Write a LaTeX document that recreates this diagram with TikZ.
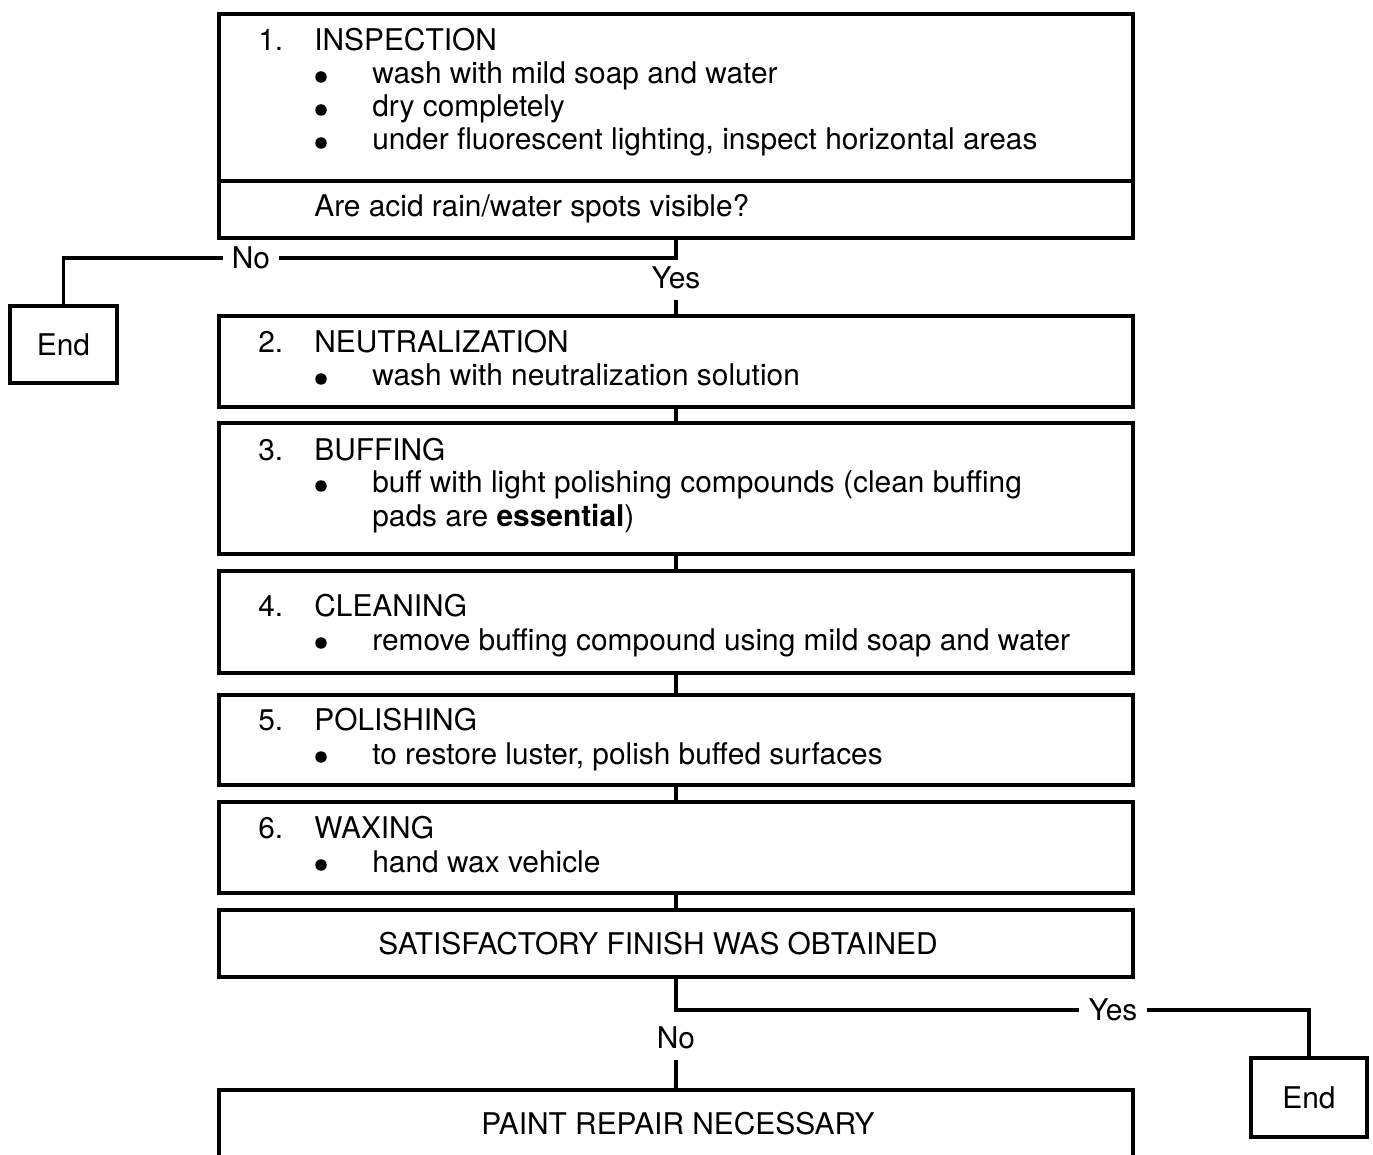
\documentclass[tikz,border=0pt]{standalone}
\usepackage{fontspec}
\setmainfont{TeX Gyre Heros}

\begin{document}
\begin{tikzpicture}[
    x=0.02cm, y=-0.02cm,
    font=\fontsize{17}{18.7}\selectfont,
    stepbox/.style={draw, line width=2.2pt, anchor=north west,
      minimum width=18.28cm, inner sep=0pt, outer sep=0pt},
    endbox/.style={draw, line width=2.2pt, anchor=north west,
      inner sep=0pt, outer sep=0pt},
    txt/.style={anchor=base west, inner sep=0pt},
    mid/.style={anchor=base, inner sep=0pt},
    dot/.style={circle, fill, inner sep=0pt, minimum size=0.23cm},
    lbl/.style={inner xsep=5pt, inner ysep=6pt},
    link/.style={line width=2.2pt}
  ]

  \clip (0,0) rectangle (1373,1155);

  % --------------------------------------------------------------------
  % Step boxes
  % --------------------------------------------------------------------

  \node[stepbox, minimum height=4.48cm] (insp) at (219,14) {};
  \coordinate (split) at (219,181);
  \draw[link] (split) -- (split -| insp.east);

  \node[stepbox, minimum height=1.82cm] (neut) at (219,316) {};
  \node[stepbox, minimum height=2.62cm] (buff) at (219,423) {};
  \node[stepbox, minimum height=2.04cm] (clean) at (219,571) {};
  \node[stepbox, minimum height=1.80cm] (polish) at (219,695) {};
  \node[stepbox, minimum height=1.82cm] (wax) at (219,802) {};
  \node[stepbox, minimum height=1.34cm] (sat) at (219,910) {};
  \node[stepbox, minimum height=2.40cm] (paint) at (219,1090) {};

  \node[endbox, minimum width=2.14cm, minimum height=1.54cm] (end1) at (10,306) {End};
  \node[endbox, minimum width=2.32cm, minimum height=1.58cm] (end2) at (1251,1058) {End};

  % --------------------------------------------------------------------
  % Box texts
  % --------------------------------------------------------------------

  \node[txt] (n1) at (258,51) {1.};
  \node[txt] (h1) at (314,51) {INSPECTION};
  \foreach \y/\t [count=\i] in {84/wash with mild soap and water,
    117/dry completely,
    150/{under fluorescent lighting, inspect horizontal areas}}{
    \node[dot] (d1\i) at (321,\y-7) {};
    \node[txt] (t1\i) at (372,\y) {\t};
  }
  \node[txt] (q1) at (314,217) {Are acid rain/water spots visible?};

  \node[txt] (n2) at (258,353) {2.};
  \node[txt] (h2) at (314,353) {NEUTRALIZATION};
  \node[dot] (d2) at (321,379) {};
  \node[txt] (t2) at (372,386) {wash with neutralization solution};

  \node[txt] (n3) at (258,460) {3.};
  \node[txt] (h3) at (314,460) {BUFFING};
  \node[dot] (d3) at (321,486) {};
  \node[txt] (t3) at (372,493) {buff with light polishing compounds (clean buffing};
  \node[txt] (t3b) at (372,526) {pads are \textbf{essential})};

  \node[txt] (n4) at (258,616) {4.};
  \node[txt] (h4) at (314,616) {CLEANING};
  \node[dot] (d4) at (321,643) {};
  \node[txt] (t4) at (372,650) {remove buffing compound using mild soap and water};

  \node[txt] (n5) at (258,730) {5.};
  \node[txt] (h5) at (314,730) {POLISHING};
  \node[dot] (d5) at (321,757) {};
  \node[txt] (t5) at (372,764) {to restore luster, polish buffed surfaces};

  \node[txt] (n6) at (258,838) {6.};
  \node[txt] (h6) at (314,838) {WAXING};
  \node[dot] (d6) at (321,865) {};
  \node[txt] (t6) at (372,872) {hand wax vehicle};

  \node[mid] (t7) at (658,954) {SATISFACTORY FINISH WAS OBTAINED};
  \node[mid] (t8) at (678,1134) {PAINT REPAIR NECESSARY};

  % --------------------------------------------------------------------
  % Branch labels
  % --------------------------------------------------------------------

  \node[lbl] (no1) at (251,258) {No};
  \node[lbl] (yes1) at (676,278) {Yes};
  \node[lbl] (yes2) at (1113,1010) {Yes};
  \node[lbl] (no2) at (676,1038) {No};

  % --------------------------------------------------------------------
  % Connectors
  % --------------------------------------------------------------------

  \draw[link] (insp.south) |- (no1.east);
  \draw[link] (no1.west) -| (end1.north);
  \draw[link] (yes1.south) -- (neut.north);
  \draw[link] (neut.south) -- (buff.north);
  \draw[link] (buff.south) -- (clean.north);
  \draw[link] (clean.south) -- (polish.north);
  \draw[link] (polish.south) -- (wax.north);
  \draw[link] (wax.south) -- (sat.north);
  \draw[link] (sat.south) |- (yes2.west);
  \draw[link] (yes2.east) -| (end2.north);
  \draw[link] (no2.south) -- (paint.north);

\end{tikzpicture}
\end{document}
